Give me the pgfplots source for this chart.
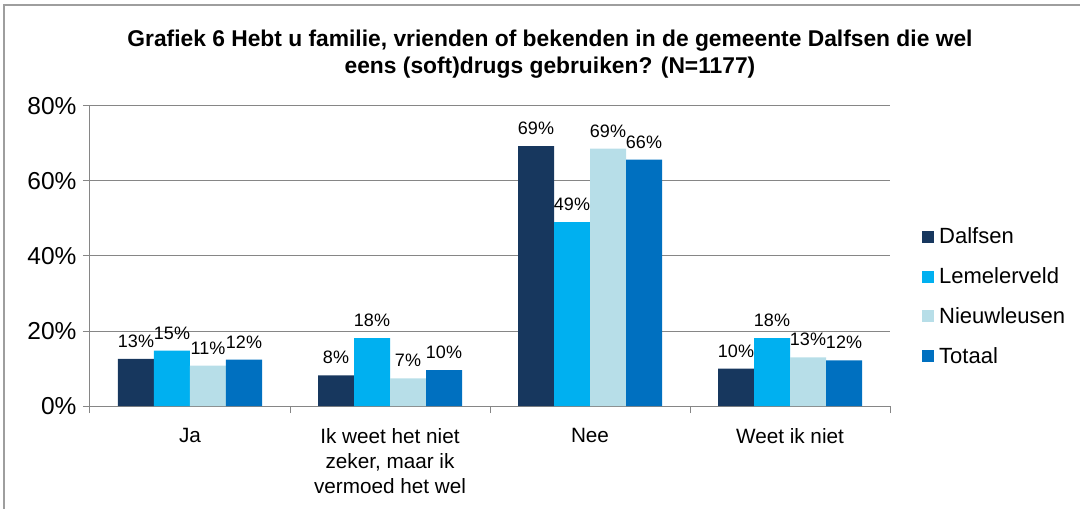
\documentclass[border=0pt]{standalone}
\usepackage{pgfplots}
\pgfplotsset{compat=1.18}
\usepackage{fontspec}
\setmainfont{Liberation Sans}
\definecolor{cDal}{HTML}{17375E}
\definecolor{cLem}{HTML}{00B0F0}
\definecolor{cNie}{HTML}{B7DEE8}
\definecolor{cTot}{HTML}{0070C0}
\definecolor{cGrid}{HTML}{868686}
\begin{document}
\begin{tikzpicture}[x=1pt,y=1pt]
\useasboundingbox (-90,-103) rectangle (990,406);
\draw[cGrid!80, line width=1.2pt] (-86,-103) -- (-86,401) -- (990,401);
\node[font=\bfseries\fontsize{22.8}{27.5}\selectfont, align=center] at (460,352) {Grafiek 6 Hebt u familie, vrienden of bekenden in de gemeente Dalfsen die wel\\eens (soft)drugs gebruiken? (N=1177)};
\begin{axis}[at={(0,0)}, anchor=south west, scale only axis, width=800pt, height=300pt,
  /pgf/number format/assume math mode=true,
  ybar=0pt, bar width=36pt,
  ymin=0, ymax=80, xmin=-0.5, xmax=3.5,
  axis x line*=bottom, axis y line*=left,
  axis line style={cGrid, line width=1pt},
  tick style={cGrid, line width=1pt},
  tick align=outside, major tick length=7pt,
  xtick={-0.5,0.5,1.5,2.5,3.5}, xticklabels={{},{},{},{},{}},
  extra x ticks={0,1,2,3},
  extra x tick labels={Ja,{Ik weet het niet\\zeker, maar ik\\vermoed het wel},Nee,Weet ik niet},
  extra x tick style={major tick length=0pt},
  xticklabel style={align=center, font=\fontsize{20.7}{25}\selectfont, yshift=-19pt},
  ytick={0,20,40,60,80},
  yticklabel={\pgfmathprintnumber{\tick}\%},
  yticklabel style={font=\fontsize{24.5}{24.5}\selectfont, xshift=-3pt},
  ymajorgrids, grid style={cGrid, line width=1pt},
  nodes near coords={\pgfmathprintnumber[fixed,precision=0]{\pgfplotspointmeta}\%},
  nodes near coords style={font=\fontsize{18}{18}\selectfont, black, inner sep=2pt, yshift=9pt},
  legend style={at={(1.040,0.365)}, anchor=west, draw=none, fill=none,
    font=\fontsize{22}{22}\selectfont, row sep=18.5pt, inner sep=0pt,
    nodes={inner xsep=5pt}},
  legend cell align=left,
  legend image code/.code={\fill[#1] (0pt,-6pt) rectangle (12pt,6pt);},
]
\addplot[fill=cDal, draw=none] coordinates {(0,12.6) (1,8.2) (2,69.3) (3,10.0)};
\addplot[fill=cLem, draw=none] coordinates {(0,14.8) (1,18.1) (2,49.0) (3,18.1)};
\addplot[fill=cNie, draw=none] coordinates {(0,10.8) (1,7.4) (2,68.6) (3,13.0)};
\addplot[fill=cTot, draw=none] coordinates {(0,12.4) (1,9.6) (2,65.7) (3,12.2)};
\legend{Dalfsen,Lemelerveld,Nieuwleusen,Totaal}
\end{axis}
\end{tikzpicture}
\end{document}
